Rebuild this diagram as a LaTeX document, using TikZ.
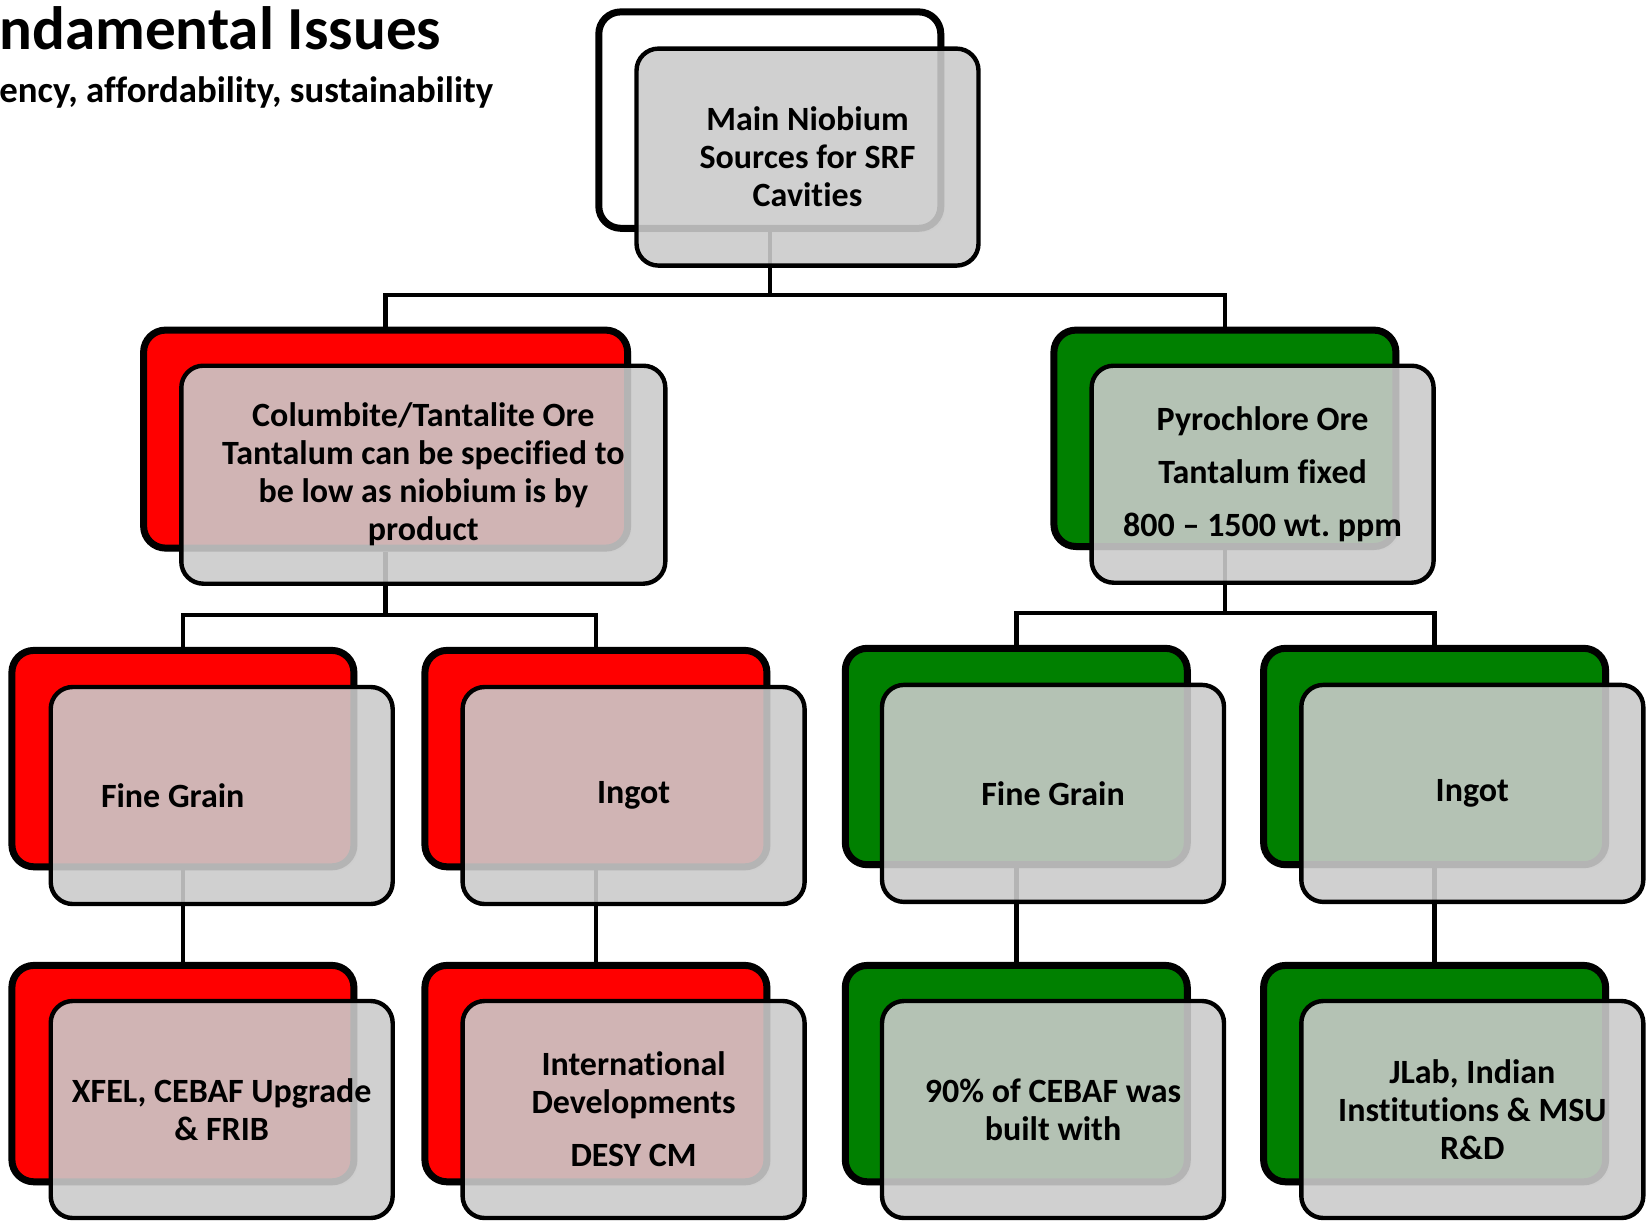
\documentclass[tikz,border=0pt]{standalone}
\usepackage{fontspec}
\setmainfont{Carlito}[Ligatures={TeX,NoCommon}]
\usetikzlibrary{shadows}
\definecolor{nbred}{RGB}{255,0,0}
\definecolor{nbgreen}{RGB}{0,128,0}
\definecolor{frontgray}{RGB}{203,203,203}
\frenchspacing
\begin{document}
\begin{tikzpicture}[x=0.5pt,y=-0.5pt,
  backbox/.style={draw=black, line width=3.5pt, rounded corners=11pt, anchor=north west,
    minimum width=171pt, minimum height=108.2pt, inner sep=0pt,
    drop shadow={shadow xshift=2pt, shadow yshift=-2pt, opacity=0.18}},
  widebox/.style={minimum width=242pt, minimum height=109pt},
  frontbox/.style={draw=black, line width=2.2pt, rounded corners=11pt, anchor=north west,
    minimum width=171pt, minimum height=108.5pt, inner sep=0pt, fill=frontgray,
    fill opacity=0.89, text opacity=1, align=center,
    font=\fontsize{17}{19}\selectfont\bfseries},
  conn/.style={line width=2.2pt, draw=black},
]
\useasboundingbox (0,0) rectangle (1652,1225);
\fill[white] (0,0) rectangle (1652,1225);

% title (cut off at left edge)
\node[anchor=base west, inner sep=0pt, font=\fontsize{30.6}{36}\selectfont\bfseries] (title) at (-1,50) {ndamental Issues};
\node[anchor=base west, inner sep=0pt, font=\fontsize{18.4}{22}\selectfont\bfseries] (subtitle) at (-1,103) {ency, affordability, sustainability};

% back boxes
\node[backbox, fill=white] (top) at (595.3,8.4) {};
\node[backbox, widebox, fill=nbred] (l2l) at (140.1,326.6) {};
\node[backbox, fill=nbgreen] (l2r) at (1050.4,326.6) {};
\node[backbox, fill=nbred] (a3) at (8.4,646.9) {};
\node[backbox, fill=nbred] (b3) at (421.4,646.9) {};
\node[backbox, fill=nbgreen] (c3) at (841.8,644.8) {};
\node[backbox, fill=nbgreen] (d3) at (1260.1,644.8) {};
\node[backbox, fill=nbred] (a4) at (8.4,961.9) {};
\node[backbox, fill=nbred] (b4) at (421.4,961.9) {};
\node[backbox, fill=nbgreen] (c4) at (841.8,961.9) {};
\node[backbox, fill=nbgreen] (d4) at (1260.1,961.9) {};

% connectors
\coordinate (j1) at (top.south |- 0,295);
\coordinate (j2) at (l2l.south |- 0,615);
\coordinate (j3) at (l2r.south |- 0,613);
\draw[conn] (top.south) -- (j1);
\draw[conn] (l2l.north) |- (j1) -| (l2r.north);
\draw[conn] (l2l.south) -- (j2);
\draw[conn] (a3.north) |- (j2) -| (b3.north);
\draw[conn] (l2r.south) -- (j3);
\draw[conn] (c3.north) |- (j3) -| (d3.north);
\draw[conn] (a3.south) -- (a4.north);
\draw[conn] (b3.south) -- (b4.north);
\draw[conn] (c3.south) -- (c4.north);
\draw[conn] (d3.south) -- (d4.north);

% front boxes
\node[frontbox] (topf) at (634.3,46.4) {Main Niobium\\Sources for SRF\\Cavities};
\node[frontbox, widebox] (l2lf) at (179.1,363.5) {Columbite/Tantalite Ore\\Tantalum can be specified to\\be low as niobium is by\\product};
\node[frontbox] (l2rf) at (1089.4,363.5) {Pyrochlore Ore\\[7.35pt]Tantalum fixed\\[7.35pt]800 – 1500 wt. ppm};
\node[frontbox, align=none] (a3f) at (48.5,684.8) {Fine Grain\hspace*{49pt}};
\node[frontbox] (b3f) at (460.4,684.8) {Ingot};
\node[frontbox] (c3f) at (879.8,682.7) {Fine Grain};
\node[frontbox] (d3f) at (1299.1,682.7) {Ingot};
\node[frontbox] (a4f) at (48.5,998.8) {XFEL, CEBAF Upgrade\\\& FRIB};
\node[frontbox] (b4f) at (460.4,998.8) {International\\Developments\\[7.35pt]DESY CM};
\node[frontbox] (c4f) at (879.8,998.8) {90\% of CEBAF was\\built with};
\node[frontbox] (d4f) at (1299.1,998.8) {JLab, Indian\\Institutions \& MSU\\R\&D};
\end{tikzpicture}
\end{document}
